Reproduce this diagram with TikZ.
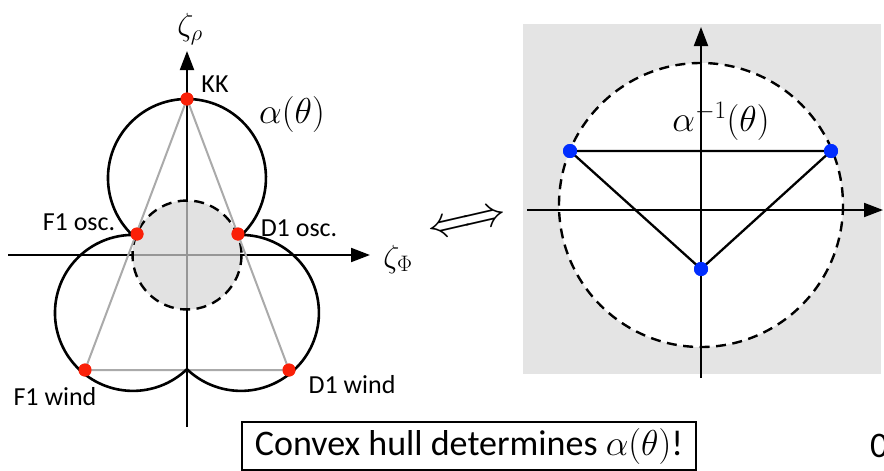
\RequirePackage{fix-cm}
\documentclass[tikz,border=0pt]{standalone}
\usepackage[no-math]{fontspec}
\setmainfont{Carlito}
\usetikzlibrary{arrows.meta}
\definecolor{dotred}{RGB}{250,32,8}
\definecolor{dotblue}{RGB}{0,45,255}
\definecolor{diskgray}{RGB}{226,226,226}
\definecolor{panelgray}{RGB}{228,228,228}
\definecolor{hullgray}{RGB}{170,170,170}
\definecolor{inaxgray}{RGB}{150,150,150}
\tikzset{
  axisline/.style={line width=2pt, -{Triangle[length=19pt,width=14pt]}},
  lobe/.style={line width=2.6pt},
  hull/.style={line width=2pt, hullgray},
  dashcirc/.style={line width=2.4pt, dash pattern=on 10pt off 6.5pt},
  reddot/.style={circle, fill=dotred, inner sep=0pt, minimum size=13pt},
  bluedot/.style={circle, fill=dotblue, inner sep=0pt, minimum size=14pt},
  lbl/.style={font=\fontsize{26}{30}\selectfont, inner sep=0pt},
  mlbl/.style={font=\fontsize{36}{40}\selectfont, inner sep=0pt},
  zlbl/.style={font=\fontsize{32}{36}\selectfont, inner sep=0pt},
}
\begin{document}
\begin{tikzpicture}[x=1pt,y=-1pt]
\useasboundingbox (0,0) rectangle (884,471);

% ---------- left panel ----------
\coordinate (O) at (187,255);
\fill[diskgray] (O) circle[radius=54.5];
\coordinate (vbot) at (187,427);
\coordinate (vtop) at (187,51);
\coordinate (hleft) at (8,255);
\coordinate (hright) at (370,255);
\draw[axisline] (vbot) -- (vtop);
\draw[axisline] (hleft) -- (hright);
\begin{scope}
  \clip (O) circle[radius=53];
  \draw[line width=2pt, inaxgray] (187,190) -- (187,320);
  \draw[line width=2pt, inaxgray] (120,255) -- (255,255);
\end{scope}
\draw[dashcirc] (O) circle[radius=54.5];

\node[reddot] (kk) at (187,99) {};
\node[reddot] (f1o) at (137,234) {};
\node[reddot] (d1o) at (238,234) {};
\node[reddot] (f1w) at (85,370) {};
\node[reddot] (d1w) at (289,370) {};

\draw[hull] (kk.center) -- (f1w.center) -- (d1w.center) -- cycle;

\draw[lobe] (132.2,234.9) arc[start angle=133.9, end angle=406.1, radius=79]
  arc[start angle=270.6, end angle=493.8, radius=78]
  arc[start angle=46.2, end angle=269.4, radius=78] -- cycle;

\node[reddot] at (kk) {};
\node[reddot] at (f1o) {};
\node[reddot] at (d1o) {};
\node[reddot] at (f1w) {};
\node[reddot] at (d1w) {};

\node[zlbl] (zr) at (190,29) {$\zeta_\rho$};
\node[zlbl] (zp) at (398,259) {$\zeta_\Phi$};
\node[mlbl] (al) at (292,114) {$\alpha(\theta)$};
\node[lbl] (lkk) at (215,84) {KK};
\node[lbl] (lf1o) at (79,222) {F1 osc.};
\node[lbl] (ld1o) at (299,228) {D1 osc.};
\node[lbl] (lf1w) at (55,397) {F1 wind};
\node[lbl] (ld1w) at (352,385) {D1 wind};

% ---------- equivalence arrow ----------
\node[inner sep=0pt, rotate=13, font=\fontsize{44}{48}\selectfont] (eq) at (467.5,224) {$\Longleftrightarrow$};

% ---------- right panel ----------
\fill[panelgray] (523,24) rectangle (881,374);
\coordinate (C) at (701,205);
\fill[white] (C) circle[radius=142];
\draw[dashcirc] (C) circle[radius=142];
\coordinate (rvbot) at (701,378);
\coordinate (rvtop) at (701,27);
\coordinate (rhleft) at (527,210);
\coordinate (rhright) at (883,210);
\draw[axisline] (rvbot) -- (rvtop);
\draw[axisline] (rhleft) -- (rhright);
\node[bluedot] (b1) at (570,151) {};
\node[bluedot] (b2) at (831,151) {};
\node[bluedot] (b3) at (701,269) {};
\draw[line width=2.3pt] (b1.center) -- (b2.center) -- (b3.center) -- cycle;
\node[bluedot] at (b1) {};
\node[bluedot] at (b2) {};
\node[bluedot] at (b3) {};
\node[mlbl] (ainv) at (721,121) {$\alpha^{-1}(\theta)$};

% ---------- bottom ----------
\node[draw, line width=1.5pt, minimum width=454pt, minimum height=48pt, inner sep=0pt,
      font=\fontsize{36}{40}\selectfont] (box) at (469,446) {Convex hull determines $\alpha(\theta)$!};
\node[anchor=base west, inner sep=0pt, font=\fontsize{36}{40}\selectfont] (pg) at (870,457) {0};
\end{tikzpicture}
\end{document}
